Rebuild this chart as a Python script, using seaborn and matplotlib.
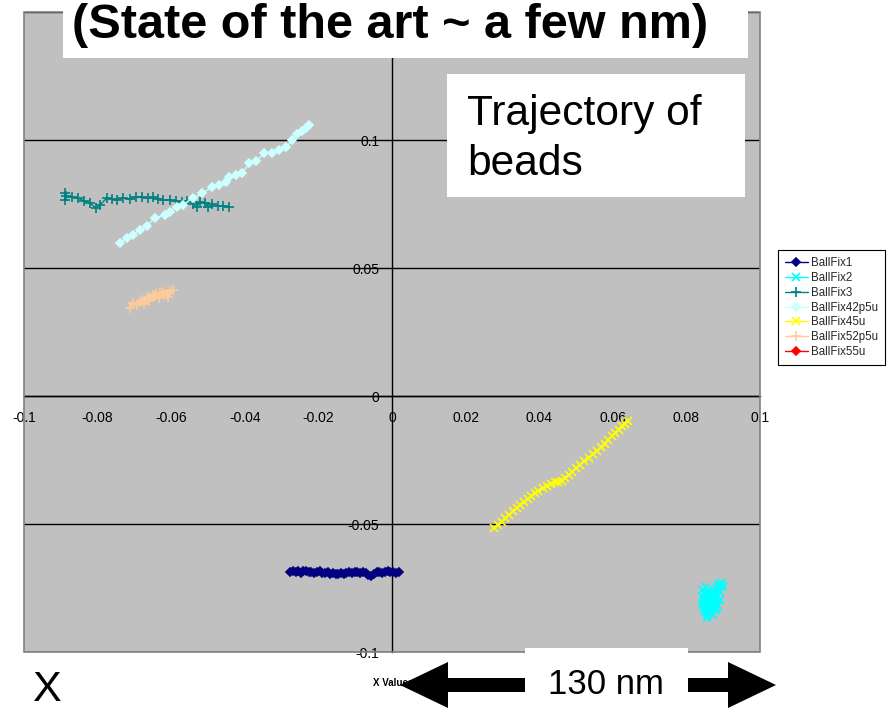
import matplotlib
matplotlib.use("Agg")
import matplotlib.pyplot as plt
from matplotlib.patches import Rectangle, Polygon
from matplotlib.lines import Line2D
from matplotlib import font_manager
import seaborn as sns
import pandas as pd

# ---------------- data ----------------
series_names = ["BallFix1", "BallFix2", "BallFix3", "BallFix42p5u",
                "BallFix45u", "BallFix52p5u", "BallFix55u"]

x1 = [-0.0276, -0.0268, -0.0262, -0.0255, -0.0248, -0.0241, -0.0234, -0.0226, -0.0219, -0.0211,
      -0.0204, -0.0197, -0.0190, -0.0182, -0.0175, -0.0168, -0.0160, -0.0153, -0.0146, -0.0138,
      -0.0131, -0.0124, -0.0116, -0.0109, -0.0101, -0.0094, -0.0087, -0.0079, -0.0072, -0.0064,
      -0.0057, -0.0050, -0.0042, -0.0035, -0.0027, -0.0020, -0.0012, -0.0005, 0.0003, 0.0011, 0.0018]
y1 = [-0.0686, -0.0682, -0.0688, -0.0684, -0.0690, -0.0685, -0.0683, -0.0689, -0.0686, -0.0691,
      -0.0687, -0.0684, -0.0690, -0.0693, -0.0689, -0.0695, -0.0692, -0.0697, -0.0694, -0.0691,
      -0.0696, -0.0693, -0.0689, -0.0692, -0.0688, -0.0686, -0.0690, -0.0687, -0.0692, -0.0698,
      -0.0703, -0.0695, -0.0689, -0.0686, -0.0691, -0.0687, -0.0684, -0.0688, -0.0686, -0.0690, -0.0687]

x2 = [0.0854, 0.0864, 0.0846, 0.0859, 0.0870, 0.0851, 0.0862, 0.0875, 0.0886, 0.0897,
      0.0881, 0.0867, 0.0856, 0.0848, 0.0864, 0.0875, 0.0883, 0.0892, 0.0862, 0.0851,
      0.0843, 0.0856, 0.0870, 0.0878, 0.0889, 0.0900, 0.0859, 0.0848, 0.0867, 0.0873,
      0.0846, 0.0880, 0.0853, 0.0872, 0.0858, 0.0892, 0.0886, 0.0881, 0.0873, 0.0843,
      0.0854]
y2 = [-0.0797, -0.0781, -0.0809, -0.0824, -0.0789, -0.0844, -0.0816, -0.0758, -0.0738, -0.0730,
      -0.0773, -0.0836, -0.0855, -0.0828, -0.0801, -0.0809, -0.0750, -0.0766, -0.0770, -0.0785,
      -0.0816, -0.0867, -0.0820, -0.0793, -0.0734, -0.0742, -0.0840, -0.0797, -0.0777, -0.0766,
      -0.0785, -0.0828, -0.0832, -0.0805, -0.0774, -0.0797, -0.0820, -0.0836, -0.0855, -0.0758,
      -0.0746]

x3 = [-0.0889, -0.0889, -0.0886, -0.0870, -0.0854, -0.0837, -0.0821, -0.0805, -0.0794, -0.0775,
      -0.0762, -0.0748, -0.0732, -0.0713, -0.0696, -0.0680, -0.0664, -0.0650, -0.0637, -0.0621,
      -0.0604, -0.0588, -0.0572, -0.0556, -0.0542, -0.0531, -0.0523, -0.0509, -0.0499, -0.0488,
      -0.0474, -0.0458, -0.0442]
y3 = [0.0793, 0.0766, 0.0781, 0.0777, 0.0773, 0.0762, 0.0754, 0.0734, 0.0746, 0.0773,
      0.0770, 0.0766, 0.0773, 0.0770, 0.0777, 0.0777, 0.0773, 0.0777, 0.0770, 0.0766,
      0.0766, 0.0762, 0.0758, 0.0762, 0.0750, 0.0738, 0.0758, 0.0754, 0.0738, 0.0750,
      0.0742, 0.0742, 0.0738]

x4 = [-0.0740, -0.0721, -0.0705, -0.0686, -0.0667, -0.0645, -0.0618, -0.0604, -0.0585, -0.0569,
      -0.0542, -0.0515, -0.0488, -0.0469, -0.0450, -0.0442, -0.0423, -0.0407, -0.0388, -0.0369,
      -0.0347, -0.0325, -0.0306, -0.0287, -0.0271, -0.0257, -0.0244, -0.0233, -0.0225]
y4 = [0.0598, 0.0617, 0.0629, 0.0648, 0.0664, 0.0695, 0.0707, 0.0719, 0.0738, 0.0746,
      0.0773, 0.0793, 0.0816, 0.0824, 0.0836, 0.0855, 0.0863, 0.0871, 0.0910, 0.0918,
      0.0949, 0.0949, 0.0961, 0.0973, 0.1000, 0.1023, 0.1035, 0.1047, 0.1059]

x5 = [0.0276, 0.0287, 0.0298, 0.0307, 0.0317, 0.0328, 0.0339, 0.0348, 0.0358, 0.0369,
      0.0379, 0.0388, 0.0398, 0.0409, 0.0420, 0.0431, 0.0442, 0.0451, 0.0461, 0.0470,
      0.0480, 0.0490, 0.0501, 0.0512, 0.0523, 0.0534, 0.0545, 0.0557, 0.0569, 0.0578,
      0.0588, 0.0597, 0.0607, 0.0616, 0.0626, 0.0634, 0.0642]
y5 = [-0.0516, -0.0503, -0.0492, -0.0478, -0.0465, -0.0451, -0.0438, -0.0426, -0.0414, -0.0402,
      -0.0391, -0.0380, -0.0371, -0.0361, -0.0352, -0.0344, -0.0336, -0.0334, -0.0332, -0.0320,
      -0.0309, -0.0295, -0.0281, -0.0268, -0.0254, -0.0241, -0.0227, -0.0213, -0.0199, -0.0186,
      -0.0172, -0.0158, -0.0145, -0.0131, -0.0117, -0.0108, -0.0098]

x6 = [-0.0713, -0.0705, -0.0694, -0.0686, -0.0678, -0.0667, -0.0659, -0.0650, -0.0640, -0.0631,
      -0.0623, -0.0612, -0.0604, -0.0596, -0.0610, -0.0620, -0.0632, -0.0645, -0.0660, -0.0675]
y6 = [0.0344, 0.0363, 0.0355, 0.0367, 0.0375, 0.0383, 0.0387, 0.0395, 0.0398, 0.0402,
      0.0406, 0.0398, 0.0410, 0.0414, 0.0387, 0.0395, 0.0383, 0.0391, 0.0371, 0.0359]

x7 = []
y7 = []

x_ticks = [-0.1, -0.08, -0.06, -0.04, -0.02, 0, 0.02, 0.04, 0.06, 0.08, 0.1]
x_tick_labels = ["-0.1", "-0.08", "-0.06", "-0.04", "-0.02", "0", "0.02", "0.04", "0.06", "0.08", "0.1"]
y_ticks = [-0.1, -0.05, 0, 0.05, 0.1, 0.15]
y_tick_labels = ["-0.1", "-0.05", "0", "0.05", "0.1", ""]   # 0.15 is hidden under the title box

# ---------------- style ----------------
colors = ["#000080", "#00FFFF", "#008080", "#CCFFFF", "#FFFF00", "#FFCC99", "#FF0000"]
markers = ["D", "x", "+", "D", "x", "+", "D"]
msizes = [4.5, 5.5, 6.5, 4.5, 5.5, 6.5, 4.5]

sns.set_style("white")
plt.rcParams["font.family"] = ["Liberation Sans", "DejaVu Sans"]

installed = {f.name for f in font_manager.fontManager.ttflist}
tick_family = "Liberation Sans Narrow" if "Liberation Sans Narrow" in installed else "Liberation Sans"
tick_size = 9.5 if tick_family == "Liberation Sans Narrow" else 8.5

W, H = 892, 712
fig = plt.figure(figsize=(W / 100, H / 100), dpi=100)
fx = lambda px: px / W
fy = lambda py: 1 - py / H

ax = fig.add_axes([fx(24), fy(652), (760 - 24) / W, 640 / H])
ax.set_facecolor("#C0C0C0")

xs = [x1, x2, x3, x4, x5, x6, x7]
ys = [y1, y2, y3, y4, y5, y6, y7]
for name, xv, yv, c, m, ms in zip(series_names, xs, ys, colors, markers, msizes):
    if len(xv) == 0:
        continue
    df = pd.DataFrame({"x": xv, "y": yv})
    sns.lineplot(data=df, x="x", y="y", sort=False, estimator=None, ax=ax,
                 color=c, marker=m, markersize=ms, linewidth=1.0,
                 markeredgecolor=c, markeredgewidth=1.2, zorder=3)

ax.set_xlim(-0.1, 0.1)
ax.set_ylim(-0.1, 0.15)
ax.set_xticks(x_ticks)
ax.set_xticklabels(x_tick_labels, family=tick_family, fontsize=tick_size)
ax.set_yticks(y_ticks)
ax.set_yticklabels(y_tick_labels, family=tick_family, fontsize=tick_size)
ax.set_xlabel("")
ax.set_ylabel("")

ax.yaxis.grid(True, color="black", linewidth=1.0)
ax.xaxis.grid(False)
ax.set_axisbelow(True)

for s in ["top", "right"]:
    ax.spines[s].set_visible(False)
ax.spines["left"].set_position(("data", 0))
ax.spines["bottom"].set_position(("data", 0))
for s in ["left", "bottom"]:
    ax.spines[s].set_color("black")
    ax.spines[s].set_linewidth(1.0)
    ax.spines[s].set_zorder(2.5)

ax.tick_params(axis="both", which="both", direction="out", length=4, width=1,
               color="black", labelcolor="black")
ax.tick_params(axis="x", pad=7)
ax.tick_params(axis="y", pad=5)

ax.add_patch(Rectangle((0, 0), 1, 1, transform=ax.transAxes, fill=False,
                       edgecolor="#808080", linewidth=1.2, zorder=4, clip_on=False))

# ---------------- legend ----------------
handles = [Line2D([0], [0], color=c, marker=m, markersize=ms, linewidth=1.0,
                  markeredgecolor=c, markeredgewidth=1.2)
           for c, m, ms in zip(colors, markers, msizes)]
leg = fig.legend(handles, series_names, loc="upper left",
                 bbox_to_anchor=(fx(778), fy(250)), fontsize=8.3, frameon=True,
                 fancybox=False, edgecolor="black", framealpha=1,
                 borderpad=0.6, labelspacing=0.25, handlelength=2.0,
                 handletextpad=0.25, borderaxespad=0)
leg.get_frame().set_linewidth(0.8)

# ---------------- annotations ----------------
fig.add_artist(Rectangle((fx(63), fy(58)), (748 - 63) / W, 58 / H, transform=fig.transFigure,
                         facecolor="white", edgecolor="none", zorder=5))
fig.text(fx(390), fy(26), "(State of the art ~ a few nm)", ha="center", va="center",
         fontsize=35, fontweight="bold", color="black", zorder=6)

fig.add_artist(Rectangle((fx(447), fy(197)), (745 - 447) / W, (197 - 74) / H,
                         transform=fig.transFigure, facecolor="white", edgecolor="none", zorder=5))
fig.text(fx(467), fy(125), "Trajectory of", ha="left", va="baseline", fontsize=30.6,
         color="black", zorder=6)
fig.text(fx(467), fy(175), "beads", ha="left", va="baseline", fontsize=30.6,
         color="black", zorder=6)

fig.text(fx(393), fy(683), "X Values", ha="center", va="center", fontsize=7,
         fontweight="bold", color="black", zorder=4)

# double arrow
ay = 685
arrow_pts = [(400, ay), (448, ay - 23), (448, ay - 7), (728, ay - 7), (728, ay - 23),
             (776, ay), (728, ay + 23), (728, ay + 7), (448, ay + 7), (448, ay + 23)]
fig.add_artist(Polygon([(fx(px), fy(py)) for px, py in arrow_pts], closed=True,
                       transform=fig.transFigure, facecolor="black", edgecolor="none", zorder=5))
fig.add_artist(Rectangle((fx(525), fy(712)), (688 - 525) / W, (712 - 648) / H,
                         transform=fig.transFigure, facecolor="white", edgecolor="none", zorder=6))
fig.text(fx(606), fy(684), "130 nm", ha="center", va="center", fontsize=25,
         color="black", zorder=7)

fig.text(fx(46), fy(690), "X", ha="center", va="center", fontsize=31, color="black", zorder=6)

fig.savefig("out.png", dpi=100)
